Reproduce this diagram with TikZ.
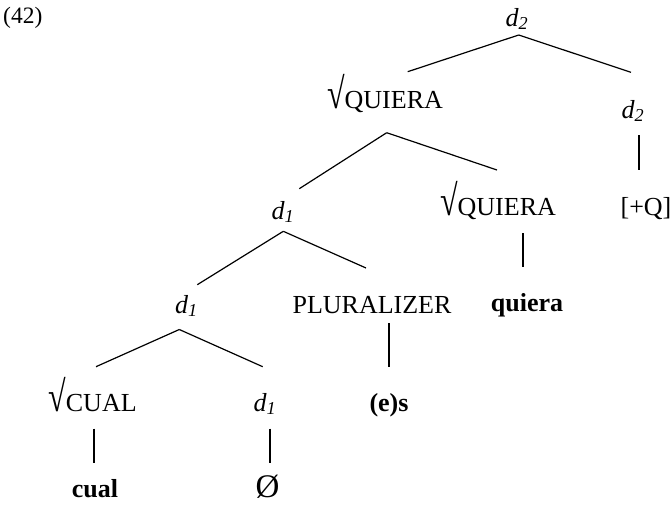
\documentclass[tikz,border=0pt]{standalone}
\usepackage{fontspec}
\setmainfont{Liberation Serif}
% italic category label with an italic subscript
\newcommand\cat[1]{{\itshape d\textsubscript{#1}}}
% tall radical sign in front of a root name
\newcommand\rootof[1]{{\fontsize{32}{32}\selectfont\scalebox{1}[1.35]{√}}#1}
\begin{document}
\begin{tikzpicture}[x=1pt,y=-1pt,
  lbl/.style={anchor=base,inner sep=0pt,font=\fontsize{26}{30}\selectfont},
  branch/.style={line width=1.2pt},
  stem/.style={line width=1.8pt}]
\useasboundingbox (0,0) rectangle (672,504);

% example number
\node[lbl,anchor=base west,font=\fontsize{23.5}{28}\selectfont] (ex) at (3,23) {(42)};

% tree labels
\node[lbl] (root)   at (517,26)    {\cat{2}};
\node[lbl] (q1)     at (385,108)   {\rootof{QUIERA}};
\node[lbl] (d2r)    at (633,118)   {\cat{2}};
\node[lbl] (plusQ)  at (646,215)   {[+Q]};
\node[lbl] (d1a)    at (283,219)   {\cat{1}};
\node[lbl] (q2)     at (498,215)   {\rootof{QUIERA}};
\node[lbl] (quiera) at (527,311)   {\textbf{quiera}};
\node[lbl] (d1b)    at (186.5,313) {\cat{1}};
\node[lbl] (plur)   at (372,313)   {PLURALIZER};
\node[lbl] (es)     at (389,411)   {\textbf{(e)s}};
\node[lbl] (cual)   at (92.5,411)  {\rootof{CUAL}};
\node[lbl] (d1c)    at (265,411)   {\cat{1}};
\node[lbl] (cualw)  at (95,497)    {\textbf{cual}};
\node[lbl,font=\fontsize{33}{33}\selectfont] (null) at (267.5,497) {Ø};

% branches
\draw[branch] ([shift={(1.7,9)}]root.base) -- ([shift={(22.7,-36.3)}]q1.base);
\draw[branch] ([shift={(1.7,9)}]root.base) -- ([shift={(-2,-45.7)}]d2r.base);
\draw[branch] ([shift={(1.7,24.7)}]q1.base) -- ([shift={(16.3,-30.3)}]d1a.base);
\draw[branch] ([shift={(1.7,24.7)}]q1.base) -- ([shift={(-1,-45)}]q2.base);
\draw[branch] ([shift={(0.3,12.3)}]d1a.base) -- ([shift={(10.8,-28.3)}]d1b.base);
\draw[branch] ([shift={(0.3,12.3)}]d1a.base) -- ([shift={(-6,-45)}]plur.base);
\draw[branch] ([shift={(-7.2,16.5)}]d1b.base) -- ([shift={(3.5,-44.3)}]cual.base);
\draw[branch] ([shift={(-7.2,16.5)}]d1b.base) -- ([shift={(-2.3,-44.3)}]d1c.base);

% vertical stems to exponents
\draw[stem] ([shift={(6,17)}]d2r.base) -- ([shift={(-7,-45)}]plusQ.base);
\draw[stem] ([shift={(24.7,18)}]q2.base) -- ([shift={(-4.3,-43.7)}]quiera.base);
\draw[stem] ([shift={(16.7,10)}]plur.base) -- ([shift={(-0.3,-44.3)}]es.base);
\draw[stem] ([shift={(1.5,17.7)}]cual.base) -- ([shift={(-1,-34.3)}]cualw.base);
\draw[stem] ([shift={(5,17.7)}]d1c.base) -- ([shift={(2.5,-34.3)}]null.base);
\end{tikzpicture}
\end{document}
